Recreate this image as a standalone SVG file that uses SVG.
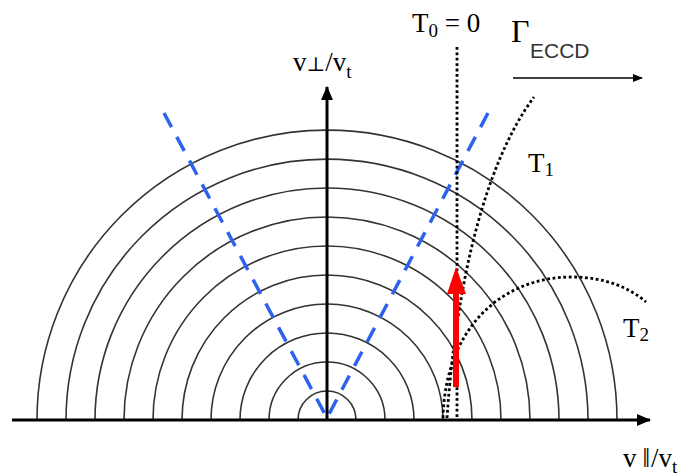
<svg xmlns="http://www.w3.org/2000/svg" width="693" height="476" viewBox="0 0 693 476">
<defs>
<style>
.circ{fill:none;stroke:#333;stroke-width:1.6}
.serif{font-family:"Liberation Serif","DejaVu Serif",serif;fill:#000}
.dot{fill:none;stroke:#000;stroke-width:2.8;stroke-dasharray:2.8 2.6}
.blue{stroke:#2d62ee;stroke-width:3.5;stroke-dasharray:16 11;fill:none}
</style>
<marker id="ah" markerWidth="10" markerHeight="8" refX="9" refY="4" orient="auto" markerUnits="userSpaceOnUse">
<path d="M0,0 L10,4 L0,8 Z" fill="#000"/>
</marker>
<marker id="ahBig" markerWidth="14" markerHeight="12" refX="13" refY="6" orient="auto" markerUnits="userSpaceOnUse">
<path d="M0,0 L14,6 L0,12 Z" fill="#000"/>
</marker>
</defs>
<g id="circles">
<path class="circ" d="M298,420 A29,29 0 0 1 356,420"/>
<path class="circ" d="M269,420 A58,58 0 0 1 385,420"/>
<path class="circ" d="M240,420 A87,87 0 0 1 414,420"/>
<path class="circ" d="M211,420 A116,116 0 0 1 443,420"/>
<path class="circ" d="M182,420 A145,145 0 0 1 472,420"/>
<path class="circ" d="M153,420 A174,174 0 0 1 501,420"/>
<path class="circ" d="M124,420 A203,203 0 0 1 530,420"/>
<path class="circ" d="M95,420 A232,232 0 0 1 559,420"/>
<path class="circ" d="M66,420 A261,261 0 0 1 588,420"/>
<path class="circ" d="M37,420 A290,290 0 0 1 617,420"/>
</g>
<g id="blue-lines">
<path class="blue" d="M164,113 L327,418"/>
<path class="blue" d="M488,113 L327,418"/>
</g>
<g id="axes">
<line x1="12" y1="420" x2="650" y2="420" stroke="#000" stroke-width="3" marker-end="url(#ahBig)"/>
<line x1="327" y1="420" x2="327" y2="87" stroke="#000" stroke-width="3" marker-end="url(#ahBig)"/>
</g>
<g id="connectors">
<line class="dot" x1="457" y1="47" x2="457" y2="420"/>
<path class="dot" d="M447,418 C455,300 480,170 534,97"/>
<path class="dot" d="M443,418 C445,330 500,277 572,277 C605,277 630,288 646,302"/>
<line x1="513" y1="78" x2="642" y2="78" stroke="#000" stroke-width="1.5" marker-end="url(#ah)"/>
</g>
<g id="red-arrow">
<line x1="456" y1="387" x2="456" y2="290" stroke="#ff0000" stroke-width="6"/>
<path d="M447,294 L456,267 L466,294 Z" fill="#ff0000"/>
</g>
<g id="labels">
<text class="serif" x="293" y="71" font-size="27">v<tspan font-size="20">⊥</tspan>/v<tspan font-size="19" dy="7">t</tspan></text>
<text class="serif" x="623" y="467" font-size="27">v<tspan dx="6">‖</tspan><tspan dx="1">/v</tspan><tspan font-size="19" dy="6">t</tspan></text>
<text class="serif" x="412" y="32" font-size="27">T<tspan font-size="19" dy="5">0</tspan><tspan dy="-5"> = 0</tspan></text>
<text class="serif" x="511" y="42" font-size="32">Γ</text>
<text x="530" y="58" font-size="21" font-family="Liberation Sans, Arial, sans-serif" fill="#333">ECCD</text>
<text class="serif" x="528" y="172" font-size="27">T<tspan font-size="19" dy="4">1</tspan></text>
<text class="serif" x="623" y="337" font-size="27">T<tspan font-size="19" dy="4">2</tspan></text>
</g>
</svg>
